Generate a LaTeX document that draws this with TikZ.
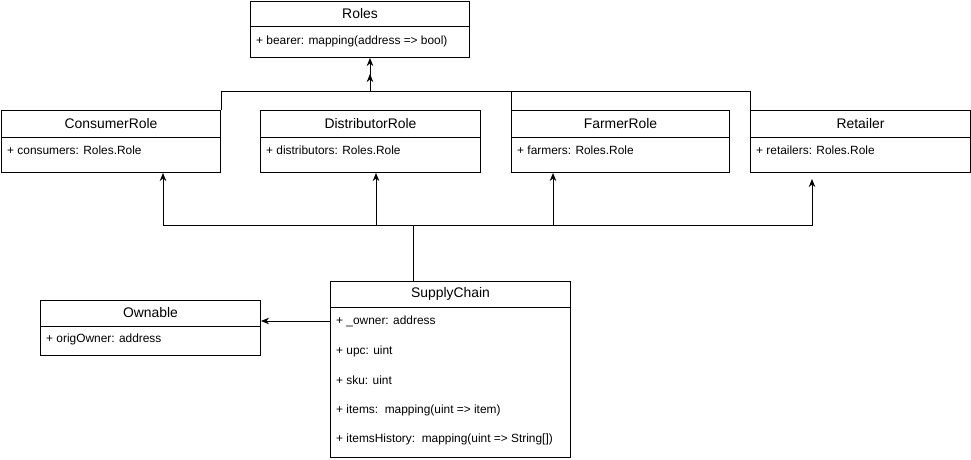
\documentclass[tikz,border=0pt]{standalone}
\usepackage{fontspec}
\setmainfont{Liberation Sans}
\usetikzlibrary{arrows.meta,calc}
\begin{document}
\begin{tikzpicture}[x=1pt,y=-1pt,
  classbox/.style={draw,line width=1pt,fill=white,inner sep=0pt,anchor=north west},
  title/.style={font=\fontsize{13.9}{16}\selectfont,inner sep=0pt},
  attr/.style={font=\fontsize{11.9}{14}\selectfont,inner sep=0pt,anchor=west},
  wire/.style={line width=1pt},
  inherit/.style={wire,-{Stealth[length=8pt,width=6.5pt,inset=2.5pt]}}]
\useasboundingbox (0,0) rectangle (971,460);

% class boxes: body, header rule, title, attributes
\newcommand{\umlclass}[7]{%
  % #1 name, #2 x, #3 y, #4 width, #5 height, #6 header height, #7 title
  \node[classbox,minimum width=#4pt,minimum height=#5pt] (#1) at (#2,#3) {};
  \draw[wire] ($(#1.north west)+(0,#6)$) -- ($(#1.north east)+(0,#6)$);
  \node[title] (#1-title) at ($(#1.north)+(0,#6/2)$) {#7};
}

\umlclass{roles}{250}{1}{219}{56}{26}{Roles}
\node[attr] (roles-a1) at (256,41) {+ bearer: mapping(address => bool)};

\umlclass{consumer}{1}{110}{219}{62}{27}{ConsumerRole}
\node[attr] (consumer-a1) at (7,150) {+ consumers: Roles.Role};

\umlclass{distributor}{260}{110}{220}{62}{27}{DistributorRole}
\node[attr] (distributor-a1) at (266,150) {+ distributors: Roles.Role};

\umlclass{farmer}{511}{110}{218}{62}{27}{FarmerRole}
\node[attr] (farmer-a1) at (517,150) {+ farmers: Roles.Role};

\umlclass{retailer}{750}{110}{220}{62}{27}{Retailer}
\node[attr] (retailer-a1) at (756,150) {+ retailers: Roles.Role};

\umlclass{ownable}{40}{300}{220}{55}{26}{Ownable}
\node[attr] (ownable-a1) at (46,339) {+ origOwner: address};

\umlclass{supply}{330}{281}{240}{176}{26}{SupplyChain}
\node[attr] (supply-a1) at (336,321) {+ \_owner: address};
\node[attr] (supply-a2) at (336,351) {+ upc: uint};
\node[attr] (supply-a3) at (336,380) {+ sku: uint};
\node[attr] (supply-a4) at (336,410) {+ items:\ \ mapping(uint => item)};
\node[attr] (supply-a5) at (336,439) {+ itemsHistory:\ \ mapping(uint => String[])};

% role classes generalise Roles
\coordinate (topjoin) at (370,91);
\draw[wire] (consumer.north east) |- (topjoin);
\draw[wire] (retailer.north west) |- (topjoin);
\draw[wire] (farmer.north west) -- (farmer.north west |- topjoin);
\draw[inherit] (topjoin) -- (roles.south -| topjoin);
\draw[inherit] (topjoin) -- ($(roles.south -| topjoin)+(0,16)$);

% SupplyChain generalises the role classes
\coordinate (botjoin) at (413,225);
\draw[wire] (supply.north -| botjoin) -- (botjoin);
\draw[inherit] (botjoin) -| ($(consumer.south west)+(162,0)$);
\draw[inherit] (botjoin) -| ($(distributor.south west)+(116,0)$);
\draw[inherit] (botjoin) -| ($(farmer.south west)+(42,0)$);
\draw[inherit] (botjoin) -| ($(retailer.south west)+(62,6)$);

% SupplyChain generalises Ownable
\draw[inherit] (supply-a1.west -| supply.west) -- (supply-a1.west -| ownable.east);
\end{tikzpicture}
\end{document}
